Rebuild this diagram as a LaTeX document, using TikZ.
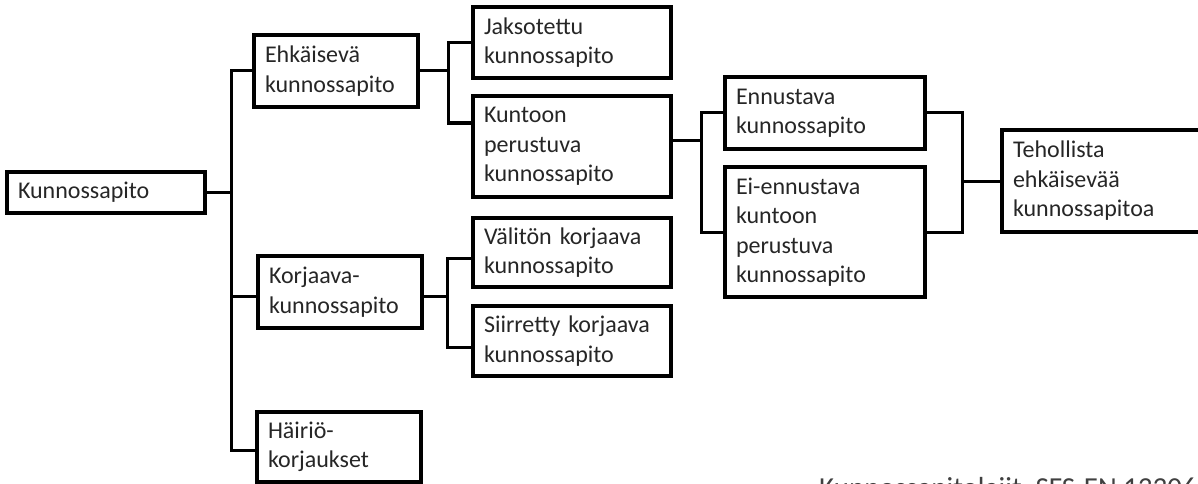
\documentclass[tikz,border=0pt]{standalone}
\usepackage{fontspec}
\setmainfont{Carlito}
\begin{document}
\begin{tikzpicture}[x=1pt,y=-1pt,
  box/.style={draw=black, line width=3.2pt, inner xsep=11pt, inner ysep=0pt,
    align=left, font=\fontsize{24}{29.5}\selectfont, text=black!85},
  conn/.style={draw=black, line width=3pt, line join=miter, line cap=rect}]
\useasboundingbox (0,0) rectangle (1198,484);
\clip (0,0) rectangle (1198,484);

% boxes
\node[box, text width=176pt, minimum height=41pt] (kp) at (106,192.5) {Kunnossapito};
\node[box, text width=142pt, minimum height=72pt] (ehk) at (336,71) {Ehkäisevä\\kunnossapito};
\node[box, text width=142pt, minimum height=72pt] (kor) at (340,292) {Korjaava-\\kunnossapito};
\node[box, text width=142pt, minimum height=70pt] (hai) at (339,447) {Häiriö-\\korjaukset};
\node[box, text width=176pt, minimum height=71pt] (jak) at (572,42.5) {Jaksotettu\\kunnossapito};
\node[box, text width=176pt, minimum height=101pt] (kun) at (572,146.5) {Kuntoon\\perustuva\\kunnossapito};
\node[box, text width=176pt, minimum height=69pt] (val) at (572,252.5) {Välitön korjaava\\kunnossapito};
\node[box, text width=176pt, minimum height=70pt] (sii) at (572,341) {Siirretty korjaava\\kunnossapito};
\node[box, text width=178pt, minimum height=72pt] (enn) at (825,113) {Ennustava\\kunnossapito};
\node[box, text width=178pt, minimum height=130pt] (ei) at (825,232) {Ei-ennustava\\kuntoon\\perustuva\\kunnossapito};
\node[box, text width=216pt, minimum height=102pt] (teh) at (1121,181) {Tehollista\\ehkäisevää\\kunnossapitoa};

% source line along the lower edge
\node[anchor=base west, inner sep=0pt, font=\fontsize{29}{35}\selectfont, text=black!75] (src) at (819,497) {Kunnossapitolajit, SFS-EN 13306};

% attachment points
\coordinate (korW) at ([yshift=-4pt]kor.west);
\coordinate (korE) at ([yshift=-4pt]kor.east);
\coordinate (haiW) at ([yshift=-3pt]hai.west);
\coordinate (kunW) at ([yshift=23.5pt]kun.west);
\coordinate (kunE) at ([yshift=6.5pt]kun.east);
\coordinate (valW) at ([yshift=-5.5pt]val.west);
\coordinate (siiW) at ([yshift=-6pt]sii.west);

% vertical bus lines
\coordinate (ta) at (231,0);
\coordinate (tb) at (448,0);
\coordinate (tc) at (447,0);
\coordinate (td) at (701,0);
\coordinate (te) at (962,0);

% connectors
\draw[conn] (kp.east) -- (kp.east -| ta);
\draw[conn] (ehk.west) -| (ta |- haiW) -- (haiW);
\draw[conn] (korW) -- (korW -| ta);
\draw[conn] (ehk.east) -- (ehk.east -| tb);
\draw[conn] (jak.west) -| (tb |- kunW) -- (kunW);
\draw[conn] (korE) -- (korE -| tc);
\draw[conn] (valW) -| (tc |- siiW) -- (siiW);
\draw[conn] (kunE) -- (kunE -| td);
\draw[conn] (enn.west) -| (td |- ei.west) -- (ei.west);
\draw[conn] (enn.east) -| (te |- ei.east) -- (ei.east);
\draw[conn] (teh.west) -- (teh.west -| te);
\end{tikzpicture}
\end{document}
